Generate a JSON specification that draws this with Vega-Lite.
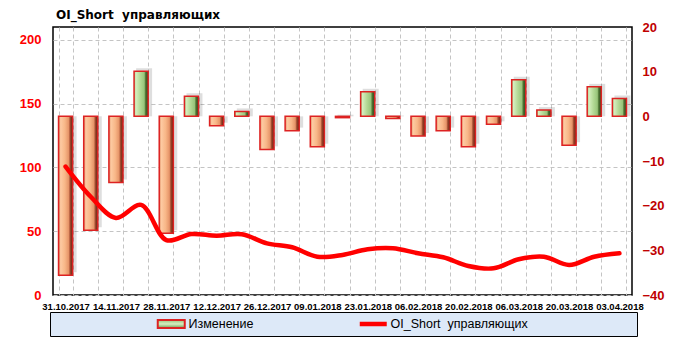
{
  "$schema": "https://vega.github.io/schema/vega-lite/v6.json",
  "width": 579,
  "height": 268,
  "autosize": {"type": "none"},
  "padding": {"left": 53, "top": 27, "right": 50, "bottom": 46},
  "background": "white",
  "title": {"text": "OI_Short\u00a0 управляющих", "anchor": "start", "frame": "group", "font": "DejaVu Sans", "fontWeight": "bold", "fontSize": 12, "color": "black", "offset": -1, "dx": 3},
  "config": {
    "view": {"stroke": "black", "strokeWidth": 1.5, "fill": "white"},
    "axis": {"domain": false, "ticks": false, "gridColor": "#c4c4c4", "gridDash": [4, 3], "gridWidth": 1}
  },
  "data": {"values": [
    {"d": "31.10.2017", "chg": -35.6, "oi": 100.6},
    {"d": "07.11.2017", "chg": -25.5, "oi": 77},
    {"d": "14.11.2017", "chg": -14.8, "oi": 60.4},
    {"d": "21.11.2017", "chg": 10.1, "oi": 70.6},
    {"d": "28.11.2017", "chg": -26.2, "oi": 43},
    {"d": "05.12.2017", "chg": 4.5, "oi": 47.8},
    {"d": "12.12.2017", "chg": -2.1, "oi": 46.5},
    {"d": "19.12.2017", "chg": 1.1, "oi": 47.6},
    {"d": "26.12.2017", "chg": -7.4, "oi": 40.5},
    {"d": "02.01.2018", "chg": -3.2, "oi": 37.4},
    {"d": "09.01.2018", "chg": -6.8, "oi": 30},
    {"d": "16.01.2018", "chg": -0.3, "oi": 31.4},
    {"d": "23.01.2018", "chg": 5.5, "oi": 35.8},
    {"d": "30.01.2018", "chg": -0.5, "oi": 36.6},
    {"d": "06.02.2018", "chg": -4.4, "oi": 32.7},
    {"d": "13.02.2018", "chg": -3.2, "oi": 29.6},
    {"d": "20.02.2018", "chg": -6.8, "oi": 22.7},
    {"d": "27.02.2018", "chg": -1.8, "oi": 20.9},
    {"d": "06.03.2018", "chg": 8.2, "oi": 28},
    {"d": "13.03.2018", "chg": 1.4, "oi": 30},
    {"d": "20.03.2018", "chg": -6.5, "oi": 23.5},
    {"d": "27.03.2018", "chg": 6.6, "oi": 30},
    {"d": "03.04.2018", "chg": 4.0, "oi": 32.7}
  ]},
  "encoding": {
    "x": {
      "field": "d", "type": "ordinal", "sort": null,
      "scale": {"paddingInner": 0.44, "paddingOuter": 0.22},
      "axis": {
        "title": null, "grid": true, "tickBand": "extent", "labelAngle": 0,
        "labelFont": "Liberation Sans", "labelFontWeight": "bold", "labelFontSize": 9.5, "labelColor": "black",
        "labelPadding": 6, "labelOverlap": false,
        "labelExpr": "indexof(['31.10.2017','14.11.2017','28.11.2017','12.12.2017','26.12.2017','09.01.2018','23.01.2018','06.02.2018','20.02.2018','06.03.2018','20.03.2018','03.04.2018'], datum.value) >= 0 ? datum.value : ''"
      }
    }
  },
  "layer": [
    {
      "mark": {"type": "bar", "fill": "#000000", "opacity": 0.13, "xOffset": 3, "yOffset": -3, "size": 16},
      "encoding": {
        "y": {"field": "chg", "type": "quantitative", "stack": null, "scale": {"domain": [-40, 20], "nice": false, "zero": true}, "axis": null}
      }
    },
    {
      "mark": {"type": "bar", "stroke": "#dd2222", "strokeWidth": 1.5},
      "encoding": {
        "y": {"field": "chg", "type": "quantitative", "stack": null, "scale": {"domain": [-40, 20], "nice": false, "zero": true},
          "axis": {"orient": "right", "title": null, "grid": false, "values": [-40, -30, -20, -10, 0, 10, 20],
            "labelFont": "Liberation Sans", "labelFontWeight": "bold", "labelFontSize": 13, "labelColor": "#c00000", "labelPadding": 10}},
        "fill": {
          "condition": {"test": "datum.chg > 0", "value": {"gradient": "linear", "x1": 0, "x2": 1, "y1": 0, "y2": 0, "stops": [
            {"offset": 0, "color": "#8cbb6c"}, {"offset": 0.12, "color": "#d6efc0"}, {"offset": 0.45, "color": "#b2d894"},
            {"offset": 0.72, "color": "#98c47a"}, {"offset": 0.82, "color": "#4e7434"}, {"offset": 1, "color": "#2c4418"}]}},
          "value": {"gradient": "linear", "x1": 0, "x2": 1, "y1": 0, "y2": 0, "stops": [
            {"offset": 0, "color": "#dc8a60"}, {"offset": 0.15, "color": "#fdcaa2"}, {"offset": 0.45, "color": "#f8b788"},
            {"offset": 0.72, "color": "#e69468"}, {"offset": 0.82, "color": "#a24c30"}, {"offset": 1, "color": "#5a1c0c"}]}
        }
      }
    },
    {
      "mark": {"type": "line", "interpolate": "catmull-rom", "strokeCap": "round"},
      "encoding": {
        "y": {"field": "oi", "type": "quantitative", "scale": {"domain": [0, 210], "nice": false},
          "axis": {"orient": "left", "title": null, "grid": true, "values": [0, 50, 100, 150, 200],
            "labelFont": "Liberation Sans", "labelFontWeight": "bold", "labelFontSize": 13, "labelColor": "#ff0000", "labelPadding": 12}},
        "strokeWidth": {"value": 4.5},
        "stroke": {
          "datum": "OI_Short\u00a0 управляющих", "type": "nominal",
          "scale": {"domain": ["Изменение", "OI_Short\u00a0 управляющих"], "range": ["#dd2222", "#ff0000"]},
          "legend": {
            "title": null,
            "orient": "none", "legendX": -3, "legendY": 285, "direction": "horizontal",
            "fillColor": "#dde9f8", "strokeColor": "black", "padding": 5, "clipHeight": 14,
            "labelFont": "Liberation Sans", "labelFontSize": 12.5, "labelColor": "black",
            "symbolOffset": 110, "labelOffset": 11,
            "columnPadding": 3, "symbolSize": 729, "labelLimit": 500, "symbolOpacity": 1,
            "symbolType": {"expr": "datum.value == 'Изменение' ? 'M-1,-0.3H1V0.3H-1Z' : 'stroke'"},
            "symbolStrokeWidth": {"expr": "datum.value == 'Изменение' ? 2 : 4.5"},
            "symbolFillColor": {"expr": "datum.value == 'Изменение' ? {gradient: 'linear', x1: 0, y1: 0, x2: 0, y2: 1, stops: [{offset: 0, color: '#98c47a'}, {offset: 0.5, color: '#d6efc0'}, {offset: 1, color: '#6e9a50'}]} : 'transparent'"},
            "labelExpr": "datum.value == 'Изменение' ? datum.label : datum.label + '\u00a0\u00a0\u00a0\u00a0\u00a0\u00a0\u00a0\u00a0\u00a0\u00a0\u00a0\u00a0\u00a0\u00a0\u00a0\u00a0\u00a0\u00a0\u00a0\u00a0\u00a0\u00a0\u00a0\u00a0\u00a0\u00a0\u00a0\u00a0\u00a0\u00a0\u200b'"
          }
        }
      }
    }
  ],
  "resolve": {"scale": {"y": "independent"}}
}
